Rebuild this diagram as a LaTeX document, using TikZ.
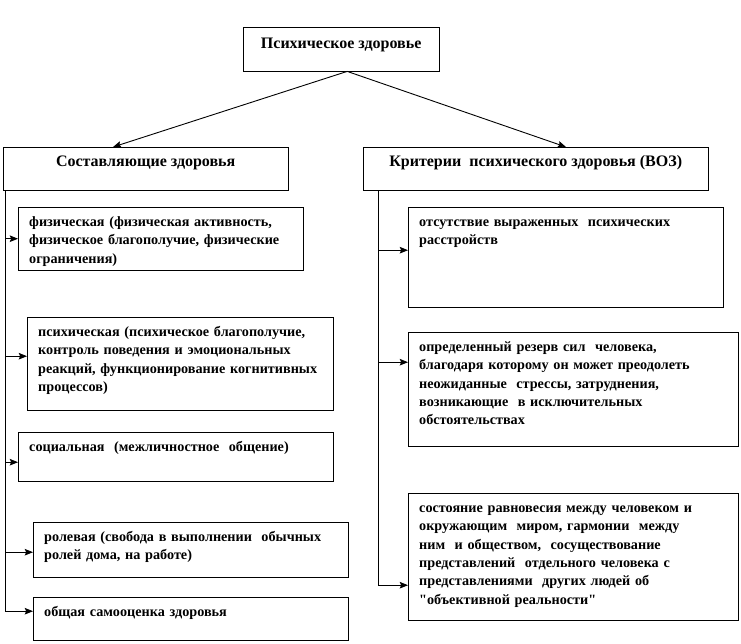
\documentclass[tikz,border=0pt]{standalone}
\usepackage{fontspec}
\setmainfont{Liberation Serif}
\newfontfamily\plainq{Liberation Serif}[Ligatures=TeXOff]
\newcommand{\dq}{{\plainq\bfseries"}}
\usepackage{tikz}
\usetikzlibrary{arrows.meta, positioning, calc}

\begin{document}
\begin{tikzpicture}[
    x=1pt, y=-1pt,
    head/.style={rectangle, draw, anchor=north west, inner sep=0pt, text height=11pt, text depth=15pt, font=\bfseries\fontsize{16}{19}\selectfont},
    item/.style={rectangle, draw, anchor=north west, align=left, inner xsep=11pt, inner ysep=4pt, text height=15pt, font=\bfseries\fontsize{14.2}{18.4}\selectfont},
    line/.style={draw, -{Stealth[length=2.9mm, width=2.3mm, inset=0.5mm]}, line width=0.9pt}
]
    \useasboundingbox (0,0) rectangle (741,643);

    \node [head, minimum width=196pt, minimum height=44pt, text depth=12pt] (psych) at (243,27) {Психическое здоровье};
    \node [head, minimum width=285pt, minimum height=43pt] (comp) at (3,147) {Составляющие здоровья};
    \node [head, minimum width=345pt, minimum height=43pt] (crit) at (363,147) {Критерии \ психического здоровья (ВОЗ)};

    \draw [line] ([xshift=6pt]psych.south) -- ([xshift=110pt]comp.north west);
    \draw [line] ([xshift=6pt]psych.south) -- ([xshift=203pt]crit.north west);

    % составляющие
    \node [item, text width=263pt, text depth=40pt] (phys) at (18,207) {физическая (физическая активность,\\физическое благополучие, физические\\ограничения)};
    \node [item, text width=284pt, text depth=70pt] (psy) at (27,317) {психическая (психическое благополучие,\\контроль поведения и эмоциональных\\реакций, функционирование когнитивных\\процессов)};
    \node [item, text width=293pt, text depth=26pt] (soc) at (18,432) {социальная \ (межличностное \ общение)};
    \node [item, text width=293pt, text depth=32pt] (role) at (33,522) {ролевая (свобода в выполнении \ обычных\\ролей дома, на работе)};
    \node [item, text width=293pt, text depth=20pt] (self) at (33,597) {общая самооценка здоровья};

    % критерии ВОЗ
    \node [item, text width=293pt, text depth=77pt] (nodis) at (408,207) {отсутствие выраженных \ психических\\расстройств};
    \node [item, text width=308pt, text depth=91pt] (reserve) at (408,332) {определенный резерв сил \ человека,\\благодаря которому он может преодолеть\\неожиданные \ стрессы, затруднения,\\возникающие \ в исключительных\\обстоятельствах};
    \node [item, text width=308pt, text depth=104pt] (balance) at (408,493) {состояние равновесия между человеком и\\окружающим \ миром, гармонии \ между\\ним \ и обществом, \ сосуществование\\представлений \ отдельного человека с\\представлениями \ других людей об\\\dq объективной реальности\dq};

    \coordinate (lspine) at ([xshift=2pt]comp.south west);
    \coordinate (rspine) at ([xshift=15pt]crit.south west);

    \draw [line] (lspine) |- (phys.west);
    \draw [line] (lspine) |- ([yshift=7.5pt]psy.west);
    \draw [line] (lspine) |- ([yshift=-5.5pt]soc.west);
    \draw [line] (lspine) |- ([yshift=-2.5pt]role.west);
    \draw [line] (lspine) |- ([yshift=7.5pt]self.west);

    \draw [line] (rspine) |- ([yshift=7pt]nodis.west);
    \draw [line] (rspine) |- ([yshift=27pt]reserve.west);
    \draw [line] (rspine) |- ([yshift=-28.5pt]balance.west);

\end{tikzpicture}
\end{document}
